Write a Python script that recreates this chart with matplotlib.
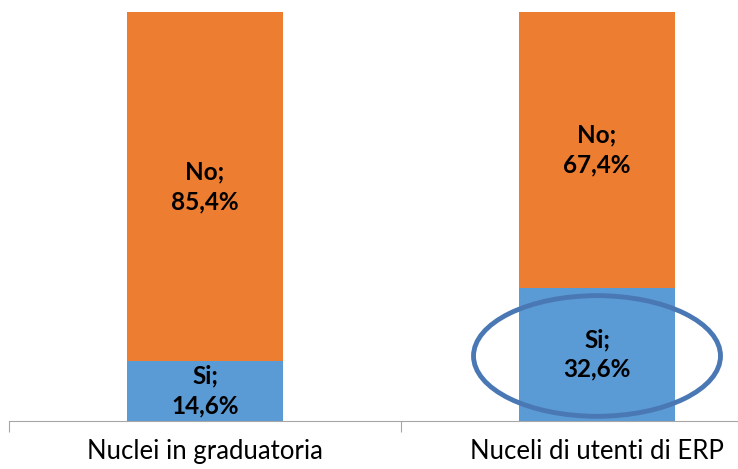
import matplotlib
matplotlib.use('Agg')
import matplotlib.pyplot as plt
from matplotlib.patches import Ellipse

# %% Data
categories = ['Nuclei in graduatoria', 'Nuceli di utenti di ERP']
si_values = [14.6, 32.6]
no_values = [85.4, 67.4]
si_labels = ['Si;\n14,6%', 'Si;\n32,6%']
no_labels = ['No;\n85,4%', 'No;\n67,4%']

blue = '#5B9BD5'
orange = '#ED7D31'

plt.rcParams['font.family'] = ['Lato', 'DejaVu Sans']

fig = plt.figure(figsize=(7.38, 4.69), dpi=100)
W, H = 738, 469
# axes run past the right edge like in the original
ax = fig.add_axes([9 / W, (H - 421) / H, 784 / W, 409 / H])

x = list(range(len(categories)))
ax.bar(x, si_values, width=0.4, color=blue)
ax.bar(x, no_values, width=0.4, bottom=si_values, color=orange)

for i in x:
    ax.text(i, si_values[i] / 2, si_labels[i], ha='center', va='center',
            fontsize=17.5, fontweight='bold', linespacing=1.35)
    ax.text(i, si_values[i] + no_values[i] / 2, no_labels[i], ha='center', va='center',
            fontsize=17.5, fontweight='bold', linespacing=1.35)

# highlight ring on the second bar
ax.add_patch(Ellipse((1, 15.9), 0.63, 29.5, fill=False, edgecolor='#4A78B4', linewidth=3.5, clip_on=False))

ax.set_xlim(-0.5, 1.5)
ax.set_ylim(0, 100)
ax.set_yticks([])
ax.set_xticks([-0.5, 0.5, 1.5], minor=False)
ax.set_xticklabels([])
ax.set_xticks(x, minor=True)
ax.set_xticklabels(categories, minor=True, fontsize=18.5)
ax.tick_params(axis='x', which='minor', length=0, pad=13)
ax.tick_params(axis='x', which='major', length=8, direction='out', color='#A6A6A6')
for s in ['top', 'right', 'left']:
    ax.spines[s].set_visible(False)
ax.spines['bottom'].set_color('#A6A6A6')

fig.savefig('out.png', dpi=100)
